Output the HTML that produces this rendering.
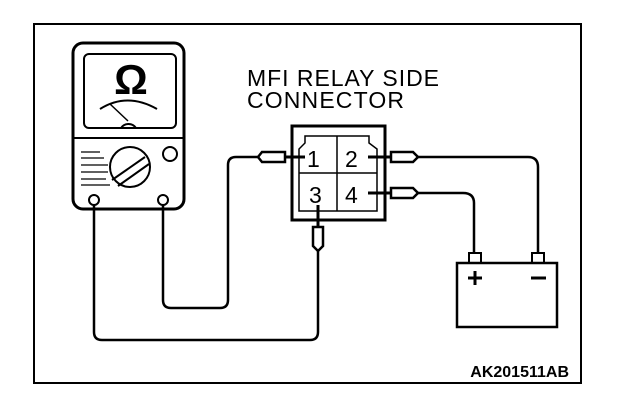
<html><body style="margin:0;background:#fff">
<svg width="624" height="404" viewBox="0 0 624 404" xmlns="http://www.w3.org/2000/svg" font-family="Liberation Sans, sans-serif">
<rect x="34" y="24" width="547" height="359" fill="none" stroke="#000" stroke-width="2"/>
<!-- meter -->
<rect x="73" y="43" width="111" height="166" rx="10" fill="none" stroke="#000" stroke-width="3"/>
<rect x="84" y="54" width="92" height="74" rx="5" fill="none" stroke="#000" stroke-width="2"/>
<line x1="73" y1="138" x2="184" y2="138" stroke="#000" stroke-width="2"/>
<text x="131" y="94" font-size="42" font-weight="bold" text-anchor="middle">Ω</text>
<path d="M100 109 Q127 92 157 109" fill="none" stroke="#000" stroke-width="2"/>
<line x1="110" y1="104" x2="128" y2="121" stroke="#000" stroke-width="1.5"/>
<path d="M121 128 A9 9 0 0 1 136 128" fill="none" stroke="#000" stroke-width="2"/>
<circle cx="170" cy="154" r="7" fill="none" stroke="#000" stroke-width="2"/>
<circle cx="130" cy="167" r="20" fill="none" stroke="#000" stroke-width="2"/>
<line x1="112" y1="180" x2="145" y2="157" stroke="#000" stroke-width="2"/>
<line x1="118" y1="186" x2="149" y2="164" stroke="#000" stroke-width="2"/>
<path d="M81 152 H100 M81 158 H104 M81 165 H108 M81 172 H108 M81 179 H106 M81 185 H110" stroke="#000" stroke-width="1.2"/>
<circle cx="94" cy="200" r="5" fill="none" stroke="#000" stroke-width="2"/>
<circle cx="163" cy="200" r="5" fill="none" stroke="#000" stroke-width="2"/>
<!-- wires -->
<g fill="none" stroke="#000" stroke-width="2.5">
<path d="M94 205 V332 Q94 340 102 340 H310 Q318 340 318 332 V250"/>
<path d="M163 205 V300 Q163 308 171 308 H220 Q228 308 228 300 V165 Q228 157 236 157 H258"/>
<path d="M418 157 H528 Q538 157 538 167 V253"/>
<path d="M418 193 H463 Q474 193 474 203 V253"/>
</g>
<!-- plugs -->
<g fill="#fff" stroke="#000" stroke-width="2.5">
<path d="M258 157 L262 152 H285 V162 H262 Z"/>
<path d="M391 152 H413 L418 157 L413 162 H391 Z"/>
<path d="M391 188 H413 L418 193 L413 198 H391 Z"/>
<path d="M313 227 H323 V246 L318 251 L313 246 Z"/>
</g>
<g stroke="#000" stroke-width="3"><line x1="285" y1="157" x2="305" y2="157"/><line x1="368" y1="157" x2="391" y2="157"/><line x1="368" y1="193" x2="391" y2="193"/><line x1="318" y1="205" x2="318" y2="227"/></g>
<!-- connector -->
<rect x="292" y="126" width="93" height="94" fill="none" stroke="#000" stroke-width="3"/>
<path d="M299 211 V149 L305 143 V136 H369 V143 L377 149 V211 Z" fill="none" stroke="#000" stroke-width="1.5"/>
<line x1="337" y1="136" x2="337" y2="211" stroke="#000" stroke-width="1.5"/>
<line x1="299" y1="173" x2="377" y2="173" stroke="#000" stroke-width="1.5"/>
<g font-size="23"><text x="307" y="167">1</text><text x="345" y="167">2</text><text x="309" y="203">3</text><text x="345" y="203">4</text></g>
<text x="247" y="86" font-size="23" textLength="192">MFI RELAY SIDE</text>
<text x="247" y="108" font-size="23" textLength="157">CONNECTOR</text>
<!-- battery -->
<rect x="457" y="263" width="100" height="64" fill="none" stroke="#000" stroke-width="2.5"/>
<rect x="469" y="253" width="12" height="10" fill="none" stroke="#000" stroke-width="2"/>
<rect x="532" y="253" width="12" height="10" fill="none" stroke="#000" stroke-width="2"/>
<path d="M468 278 H482 M475 271 V285 M531 278 H546" stroke="#000" stroke-width="3"/>
<text x="569" y="377" font-size="16" font-weight="bold" text-anchor="end">AK201511AB</text>
</svg>
</body></html>
